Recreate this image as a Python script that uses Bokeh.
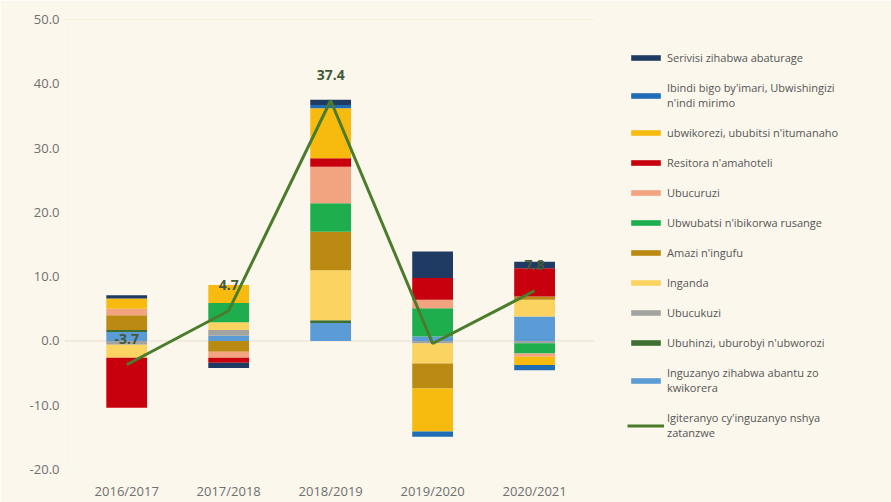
from bokeh.plotting import figure
from bokeh.models import (ColumnDataSource, Range1d, FixedTicker,
                          NumeralTickFormatter, Legend, LegendItem)
from bokeh.embed import file_html
from bokeh.resources import INLINE
from bokeh.core.properties import value

years = ["2016/2017", "2017/2018", "2018/2019", "2019/2020", "2020/2021"]

# sectors in legend order (top of legend first)
names = [
    "Serivisi zihabwa abaturage",
    "Ibindi bigo by'imari, Ubwishingizi\nn'indi mirimo",
    "ubwikorezi, ububitsi n'itumanaho",
    "Resitora n'amahoteli",
    "Ubucuruzi",
    "Ubwubatsi n'ibikorwa rusange",
    "Amazi n'ingufu",
    "Inganda",
    "Ubucukuzi",
    "Ubuhinzi, uburobyi n'ubworozi",
    "Inguzanyo zihabwa abantu zo\nkwikorera",
]
serivisi   = [0.5, -0.8, 0.8, 4.1, 1.0]
ibindi     = [0.0, 0.0, 0.5, -0.8, -0.8]
ubwikorezi = [1.6, 2.8, 7.8, -6.7, -1.3]
resitora   = [-7.8, -0.8, 1.3, 3.4, 4.4]
ubucuruzi  = [1.0, -0.9, 5.7, 1.3, -0.5]
ubwubatsi  = [0.0, 3.0, 4.4, 4.4, -1.6]
amazi      = [2.3, -1.7, 6.0, -3.9, 0.5]
inganda    = [-2.0, 1.2, 7.8, -3.1, 2.6]
ubucukuzi  = [-0.6, 0.9, 0.0, -0.4, -0.35]
ubuhinzi   = [0.3, 0.0, 0.4, 0.0, 0.0]
inguzanyo  = [1.4, 0.8, 2.8, 0.7, 3.8]

total_name = "Igiteranyo cy'inguzanyo nshya\nzatanzwe"
total = [-3.7, 4.7, 37.4, -0.4, 7.8]
total_labels = ["-3.7", "4.7", "37.4", "", "7.8"]

y_ticks = [-20, -10, 0, 10, 20, 30, 40, 50]

series = [serivisi, ibindi, ubwikorezi, resitora, ubucuruzi, ubwubatsi,
          amazi, inganda, ubucukuzi, ubuhinzi, inguzanyo]
colors = ["#1f3a63", "#1f6db5", "#f7bb0f", "#c8000e", "#f2a481", "#1fae4e",
          "#bb8a12", "#fbd360", "#a3a3a0", "#3f6e33", "#5b9bd6"]

BG = "#fbf7ec"
FONT = "Open Sans"

xpos = list(range(len(years)))
X0, X1 = -0.61, 4.58   # extent of the plotting area proper

p = figure(width=891, height=502,
           x_range=Range1d(X0, 7.5),
           y_range=Range1d(min(y_ticks), max(y_ticks)),
           output_backend="svg", toolbar_location=None,
           background_fill_color=BG, border_fill_color=BG,
           min_border_left=64, min_border_right=0,
           min_border_top=19, min_border_bottom=32)
p.outline_line_color = None

# light reference lines at the top and at zero, only over the bar area
p.segment(x0=[X0, X0], x1=[X1, X1], y0=[max(y_ticks), 0],
          y1=[max(y_ticks), 0], line_color=["#f6e7b8", "#eadfcd"],
          line_width=1)

# stack from zero outward: last legend entry sits next to zero
pos = [0.0] * len(years)
neg = [0.0] * len(years)
renderers = {}
for name, vals, col in reversed(list(zip(names, series, colors))):
    bottoms, tops = [], []
    for i, v in enumerate(vals):
        if v >= 0:
            bottoms.append(pos[i]); tops.append(pos[i] + v); pos[i] += v
        else:
            tops.append(neg[i]); bottoms.append(neg[i] + v); neg[i] += v
    src = ColumnDataSource(dict(x=xpos, top=tops, bottom=bottoms))
    r = p.vbar(x="x", top="top", bottom="bottom", width=0.4, source=src,
               fill_color=col, line_color=None)
    renderers[name] = r

lsrc = ColumnDataSource(dict(x=xpos, y=total, lab=total_labels))
lr = p.line(x="x", y="y", source=lsrc, line_color="#4a7c2c", line_width=3)
p.text(x="x", y="y", text="lab", source=lsrc, text_align="center",
       text_baseline="middle", y_offset=-26, text_font=value(FONT),
       text_font_style="bold", text_font_size="14px", text_color="#44583a")

items = [LegendItem(label=n, renderers=[renderers[n]]) for n in names]
items.append(LegendItem(label=total_name, renderers=[lr]))
legend = Legend(items=items, location=(563, 29), padding=0, margin=0,
                border_line_color=None, background_fill_alpha=0,
                glyph_width=37, glyph_height=7, label_standoff=3,
                spacing=15, label_height=14,
                label_text_font=FONT, label_text_font_size="11px",
                label_text_color="#555555", label_text_line_height=1.05)
p.add_layout(legend, "center")

p.xaxis.ticker = FixedTicker(ticks=xpos)
p.xaxis.major_label_overrides = {i: y for i, y in zip(xpos, years)}
p.yaxis.ticker = FixedTicker(ticks=y_ticks)
p.yaxis.formatter = NumeralTickFormatter(format="0.0")
for ax in (p.xaxis[0], p.yaxis[0]):
    ax.axis_line_color = None
    ax.major_tick_line_color = None
    ax.minor_tick_line_color = None
    ax.major_tick_out = 0
    ax.major_tick_in = 0
    ax.minor_tick_out = 0
    ax.minor_tick_in = 0
    ax.major_label_text_font = FONT
    ax.major_label_text_color = "#6f6f6f"
    ax.major_label_text_font_size = "13px"
p.yaxis.major_label_standoff = 5
p.xaxis.major_label_standoff = 12

p.xgrid.grid_line_color = None
p.ygrid.grid_line_color = None

open("out.html", "w").write(file_html(p, INLINE))
